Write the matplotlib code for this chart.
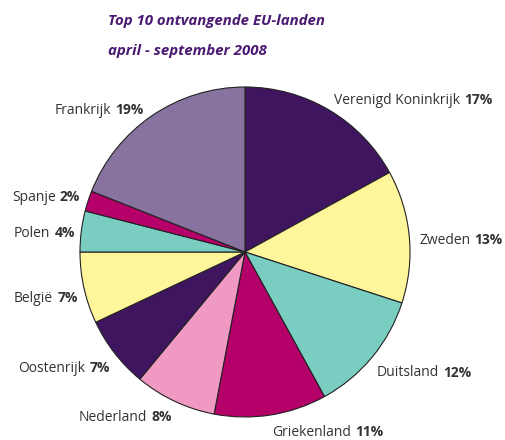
import matplotlib
matplotlib.use("Agg")
import matplotlib.pyplot as plt

# ---------------------------------------------------------------------------
# Data
# ---------------------------------------------------------------------------
countries = ["Verenigd Koninkrijk", "Zweden", "Duitsland", "Griekenland",
             "Nederland", "Oostenrijk", "België", "Polen", "Spanje", "Frankrijk"]
shares = [17, 13, 12, 11, 8, 7, 7, 4, 2, 19]
colors = ["#3F1560", "#FFF59B", "#79CEC1", "#B5006A", "#EF99C3",
          "#3F1560", "#FFF59B", "#79CEC1", "#B5006A", "#8873A0"]

# label anchor (left edge, vertical centre) in pixel coords, top-left origin
label_pos = [(334, 100), (419, 240), (377, 373), (272, 432), (79, 417),
             (18, 368), (14, 298), (14, 233), (12, 197), (55, 110)]

W, H = 505, 440
plt.rcParams["font.family"] = ["Open Sans", "DejaVu Sans"]

fig = plt.figure(figsize=(W / 100, H / 100), dpi=100)
ax = fig.add_axes([0, 0, 1, 1])

ax.pie(shares, colors=colors, startangle=90, counterclock=False,
       center=(245, H - 252), radius=165,
       wedgeprops=dict(edgecolor="#222222", linewidth=0.8))
ax.set_xlim(0, W)
ax.set_ylim(0, H)
ax.set_aspect("equal")
ax.axis("off")

for name, pct, (x, y) in zip(countries, shares, label_pos):
    t = ax.text(x, H - y, name, ha="left", va="center",
                fontsize=10, color="#333333")
    ax.annotate(f"{pct}%", xy=(1, 0.5), xycoords=t, xytext=(3, 0),
                textcoords="offset points", ha="left", va="center",
                fontsize=10, fontweight="bold", color="#333333")

title_kw = dict(ha="left", va="center", fontsize=10.8, fontweight="bold",
                fontstyle="italic", color="#4A1A72")
ax.text(108, H - 21, "Top 10 ontvangende EU-landen", **title_kw)
ax.text(108, H - 51, "april - september 2008", **title_kw)

fig.savefig("out.png", dpi=100)
